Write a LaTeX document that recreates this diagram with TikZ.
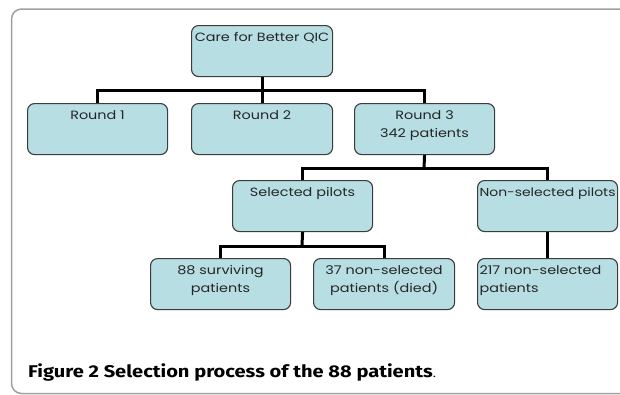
\documentclass[tikz,border=0pt]{standalone}
\usepackage{fontspec}
\setmainfont{Poppins}[FakeStretch=1.2]
\newfontfamily\capfont{Fira Sans}[FakeStretch=1.18]
\definecolor{boxc}{HTML}{B7DEE2}
\definecolor{bordc}{HTML}{3C3C3C}
\definecolor{framec}{HTML}{A0A0A0}
\definecolor{txtc}{HTML}{262626}
\tikzset{
  box/.style={draw=bordc, line width=1.1pt, rounded corners=7pt, fill=boxc,
    inner sep=2pt, anchor=north west, text=txtc, font=\fontsize{12}{18}\selectfont},
  conn/.style={line width=3pt, black, line join=miter}
}
\newcommand{\bxc}[3]{\parbox[t][47pt][t]{#1}{\vspace*{1pt}\centering\strut #2\\#3}}
\newcommand{\bxl}[3]{\parbox[t][47pt][t]{#1}{\vspace*{1pt}\raggedright\strut #2\\#3}}
\begin{document}
\begin{tikzpicture}[x=1pt,y=-1pt]
\useasboundingbox (0,0) rectangle (620,394);
\begin{scope}
\clip (0,0) rectangle (620,394);
\draw[framec, line width=1.5pt, rounded corners=10pt] (11.5,9) rectangle (650,393.5);
\end{scope}
% nodes
\node[box] (care) at (191,25) {\bxc{137pt}{Care for Better QIC}{}};
\node[box] (r1) at (27,103) {\bxc{136pt}{Round 1}{}};
\node[box] (r2) at (191,103) {\bxc{137pt}{Round 2}{}};
\node[box] (r3) at (354,103) {\bxc{136pt}{Round 3}{342 patients}};
\node[box] (sp) at (232,180) {\bxc{136pt}{Selected pilots}{}};
\node[box] (np) at (477,180) {\bxl{136pt}{\resizebox{136pt}{!}{Non-selected pilots}}{}};
\node[box] (s88) at (150,258) {\bxc{136pt}{88 surviving}{patients}};
\node[box] (s37) at (313,258) {\bxc{137pt}{37 non-selected}{patients (died)}};
\node[box] (s217) at (477,258) {\bxl{136pt}{217 non-selected}{patients}};
% junctions
\coordinate (j1) at (261.5,90);
\coordinate (j2) at (424,168);
\coordinate (j3) at (302,246);
% connectors
\draw[conn] (care.south) -- (r2.north);
\draw[conn] (r1.north) |- (j1) -| (r3.north);
\draw[conn] (r3.south) -- (j2);
\draw[conn] (sp.north) |- (j2) -| (np.north);
\draw[conn] (sp.south) -- (j3);
\draw[conn] (s88.north) |- (j3) -| (s37.north);
\draw[conn] (np.south) -- (s217.north);
% caption
\node[anchor=base west, inner sep=0, font=\capfont\fontsize{17}{19}\selectfont, text=black] (cap) at (28,377)
  {\textbf{Figure 2 Selection process of the 88 patients}{\fontsize{11}{12}\selectfont.}};
\end{tikzpicture}
\end{document}
